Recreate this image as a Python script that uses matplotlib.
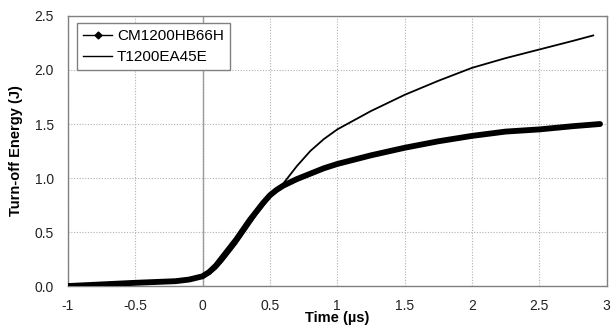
import matplotlib
matplotlib.use("Agg")
import matplotlib.pyplot as plt
from matplotlib.lines import Line2D

plt.rcParams['font.family'] = ['Liberation Sans', 'DejaVu Sans']

# values
t_cm = [-1, -0.75, -0.5, -0.3, -0.2, -0.1, 0, 0.05, 0.1, 0.15, 0.2, 0.25, 0.3, 0.35,
        0.4, 0.45, 0.5, 0.55, 0.6, 0.7, 0.8, 0.9, 1.0, 1.25, 1.5, 1.75, 2.0, 2.25,
        2.5, 2.75, 2.95]
e_cm = [0.0, 0.015, 0.03, 0.04, 0.045, 0.06, 0.09, 0.13, 0.19, 0.27, 0.35, 0.43, 0.52,
        0.61, 0.69, 0.77, 0.84, 0.89, 0.93, 0.99, 1.04, 1.09, 1.13, 1.21, 1.28, 1.34,
        1.39, 1.43, 1.45, 1.48, 1.50]

t_t = [-1, -0.5, -0.2, -0.1, 0, 0.05, 0.1, 0.15, 0.2, 0.25, 0.3, 0.35, 0.4, 0.45, 0.5,
       0.55, 0.6, 0.65, 0.7, 0.8, 0.9, 1.0, 1.25, 1.5, 1.75, 2.0, 2.25, 2.5, 2.75, 2.9]
e_t = [0.0, 0.03, 0.045, 0.055, 0.08, 0.11, 0.16, 0.23, 0.31, 0.39, 0.48, 0.57, 0.66,
       0.74, 0.82, 0.88, 0.95, 1.03, 1.11, 1.25, 1.36, 1.45, 1.62, 1.77, 1.90, 2.02,
       2.11, 2.19, 2.27, 2.32]

xticks = [-1, -0.5, 0, 0.5, 1, 1.5, 2, 2.5, 3]
xtick_labels = ["-1", "-0.5", "0", "0.5", "1", "1.5", "2", "2.5", "3"]
yticks = [0.0, 0.5, 1.0, 1.5, 2.0, 2.5]

fig = plt.figure(figsize=(6.16, 3.33), dpi=100)
ax = fig.add_axes([0.110, 0.141, 0.875, 0.811])

ax.grid(True, linestyle=(0, (1, 1.5)), color="#b0b0b0", linewidth=0.8)
ax.axvline(0, color="#909090", linewidth=1.0, zorder=1)

ax.plot(t_cm, e_cm, color="black", linewidth=4.2, solid_capstyle="round", zorder=3)
ax.plot(t_t, e_t, color="black", linewidth=1.3, zorder=4)

ax.set_xlim(-1, 3)
ax.set_ylim(0, 2.5)
ax.set_xticks(xticks)
ax.set_xticklabels(xtick_labels)
ax.set_yticks(yticks)
ax.set_yticklabels([f"{v:.1f}" for v in yticks])
ax.tick_params(labelsize=10, colors="#222222", length=0)
ax.tick_params(axis="x", pad=9)
ax.tick_params(axis="y", pad=10)

for s in ax.spines.values():
    s.set_color("#808080")
    s.set_linewidth(1.0)

ax.set_xlabel("Time (µs)", fontsize=10.5, fontweight="bold", labelpad=-1)
ax.set_ylabel("Turn-off Energy (J)", fontsize=10.5, fontweight="bold", labelpad=8)

handles = [
    Line2D([], [], color="black", linewidth=1.0, marker="D", markersize=3.5),
    Line2D([], [], color="black", linewidth=1.0),
]
leg = ax.legend(handles, ["CM1200HB66H", "T1200EA45E"], loc="upper left",
                bbox_to_anchor=(0.012, 0.985), fontsize=11, fancybox=False,
                handlelength=1.9, borderpad=0.4, labelspacing=0.45,
                handletextpad=0.3, framealpha=1, borderaxespad=0.2)
leg.get_frame().set_edgecolor("#808080")
leg.get_frame().set_linewidth(1.0)

fig.savefig("out.png", dpi=100)
